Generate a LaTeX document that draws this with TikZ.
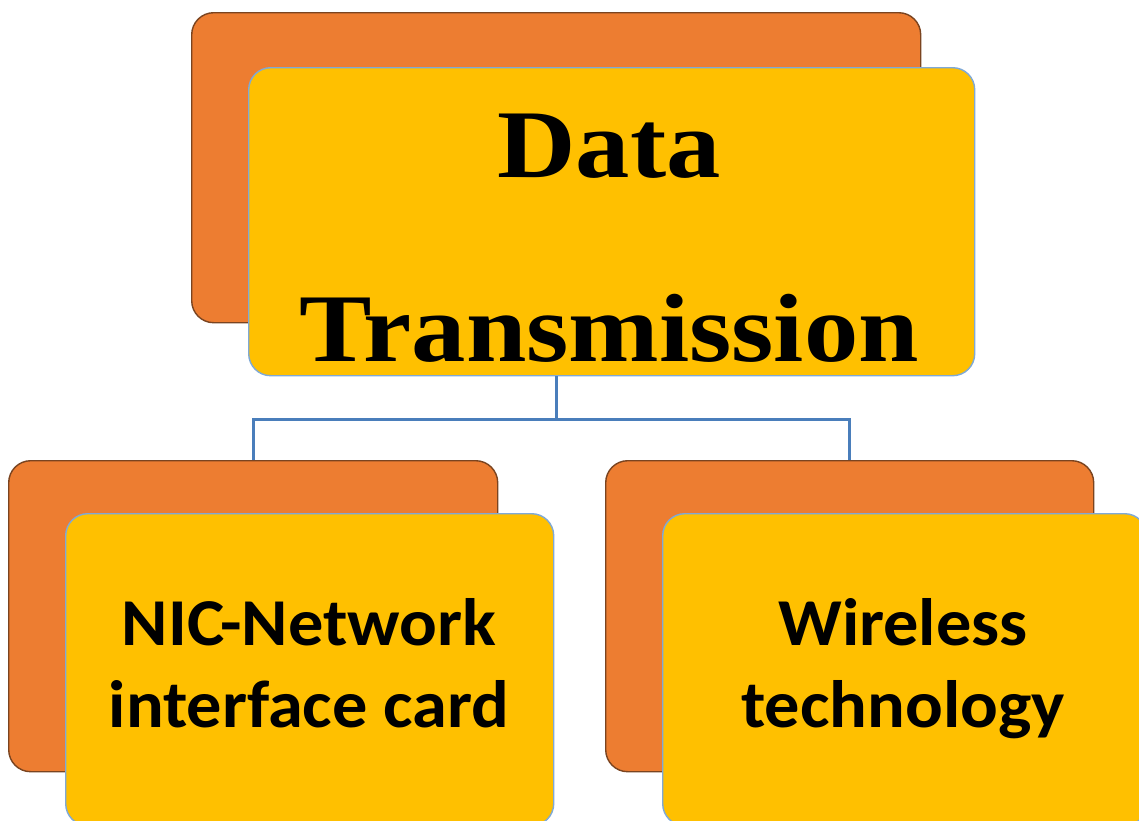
\documentclass[tikz,border=0pt]{standalone}
\usepackage{fontspec}
\usetikzlibrary{calc}
\newfontfamily\titlefont[FakeStretch=1.12]{Liberation Serif}
\newfontfamily\bodyfont[FakeStretch=1.05]{Carlito}
\definecolor{orangeF}{HTML}{ED7D31}
\definecolor{orangeD}{HTML}{7A4420}
\definecolor{yellowF}{HTML}{FFC000}
\definecolor{yellowD}{HTML}{7FA9D6}
\definecolor{connC}{HTML}{4A7EBB}
\tikzset{
  backbox/.style={rectangle, rounded corners=22pt, fill=orangeF, draw=orangeD, line width=1.4pt, inner sep=0pt},
  frontbox/.style={rectangle, rounded corners=22pt, fill=yellowF, draw=yellowD, line width=1.4pt, inner sep=0pt},
  conn/.style={draw=connC, line width=3pt},
  titletext/.style={anchor=base, inner sep=0pt, font=\titlefont\bfseries\fontsize{97}{100}\selectfont},
  leaftext/.style={anchor=base, inner sep=0pt, font=\bodyfont\bfseries\fontsize{67}{82}\selectfont}
}
\begin{document}
\begin{tikzpicture}[x=1pt,y=-1pt]
\clip (0,0) rectangle (1139,820);
\fill[white] (0,0) rectangle (1139,820);
% top
\node[backbox, minimum width=729pt, minimum height=310pt, anchor=north west] (topback) at (191,12) {};
\node[frontbox, minimum width=726pt, minimum height=308pt, anchor=north west] (topfront) at (248,67) {};
% bottom left
\node[backbox, minimum width=489pt, minimum height=311pt, anchor=north west] (lback) at (8,460) {};
\node[frontbox, minimum width=488pt, minimum height=312pt, anchor=north west] (lfront) at (65,513) {};
% bottom right
\node[backbox, minimum width=488pt, minimum height=311pt, anchor=north west] (rback) at (605,460) {};
\node[frontbox, minimum width=484pt, minimum height=312pt, anchor=north west] (rfront) at (662,513) {};
% connectors
\coordinate (start) at (topback.south |- topfront.south);
\coordinate (j) at ($(start)+(0,43)$);
\draw[conn] (start) -- (j) -| (lback.north);
\draw[conn] (j) -| (rback.north);
% texts
\node[titletext] (t1) at (609,177) {Data};
\node[titletext] (t2) at (609,361) {Transmission};
\node[leaftext] (l1) at (309,645) {NIC-Network};
\node[leaftext] (l2) at (309,727) {interface card};
\node[leaftext] (r1) at (903,645) {Wireless};
\node[leaftext] (r2) at (903,727) {technology};
\end{tikzpicture}
\end{document}
